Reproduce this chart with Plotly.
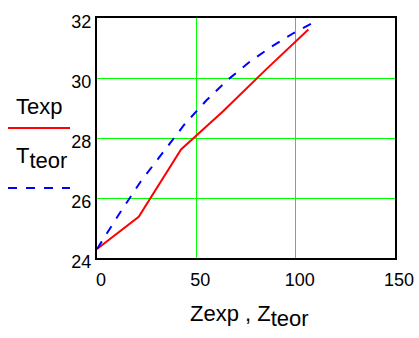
import plotly.graph_objects as go

# Experimental data (Texp vs Zexp)
z_exp = [0, 21, 42.3, 63.6, 85, 106.4]
t_exp = [24.3, 25.37, 27.62, 28.9, 30.28, 31.62]

# Theoretical curve (Tteor vs Zteor)
z_teor = [0, 11, 22, 33, 44, 55, 66, 77, 88, 99, 110.5]
t_teor = [24.3, 25.45, 26.55, 27.5, 28.45, 29.25, 29.95, 30.55, 31.05, 31.5, 31.9]

x_ticks = [0, 50, 100, 150]
y_ticks = [24, 26, 28, 30, 32]

FONT = "Arial, Liberation Sans, sans-serif"
GRID = "#00ff00"

fig = go.Figure()
fig.add_trace(go.Scatter(x=z_exp, y=t_exp, mode="lines",
                         line=dict(color="#ff0000", width=2), name="Texp"))
fig.add_trace(go.Scatter(x=z_teor, y=t_teor, mode="lines",
                         line=dict(color="#0000ff", width=2, dash="dash"), name="Tteor"))

fig.update_layout(
    width=419, height=338,
    margin=dict(l=97, r=24, t=18, b=80, autoexpand=False),
    paper_bgcolor="white", plot_bgcolor="white",
    showlegend=False,
    font=dict(family=FONT, color="black", size=18),
    xaxis=dict(range=[0, 150], tickvals=x_ticks, ticktext=[str(v) for v in x_ticks],
               showgrid=True, gridcolor=GRID, gridwidth=1, automargin=False,
               showline=True, linecolor="black", linewidth=2, mirror=True,
               zeroline=False, ticks="", ticklabelshift=4, ticklabelstandoff=4,
               tickfont=dict(size=18)),
    yaxis=dict(range=[24, 32], tickvals=y_ticks, ticktext=[str(v) for v in y_ticks],
               showgrid=True, gridcolor=GRID, gridwidth=1, automargin=False,
               showline=True, linecolor="black", linewidth=2, mirror=True,
               zeroline=False, ticks="", ticklabelshift=4, ticklabelstandoff=0,
               tickfont=dict(size=18)),
)

# x-axis title
fig.add_annotation(xref="paper", yref="paper", x=0.513, y=-0.17, yanchor="top",
                   xanchor="center", showarrow=False,
                   text="Zexp<span> , </span>Z<sub><span style='font-size:22px'>teor</span></sub>",
                   font=dict(size=22, family=FONT))

# custom legend on the left
fig.add_annotation(xref="paper", yref="paper", x=(39 - 97) / 298, y=(258 - 106) / 240,
                   xanchor="center", yanchor="middle", showarrow=False,
                   text="Texp", font=dict(size=22, family=FONT))
fig.add_shape(type="line", xref="paper", yref="paper",
              x0=(8 - 97) / 298, x1=(70 - 97) / 298,
              y0=(258 - 128) / 240, y1=(258 - 128) / 240,
              line=dict(color="#ff0000", width=2))
fig.add_annotation(xref="paper", yref="paper", x=(41 - 97) / 298, y=(258 - 158) / 240,
                   xanchor="center", yanchor="middle", showarrow=False,
                   text="T<sub><span style='font-size:22px'>teor</span></sub>",
                   font=dict(size=22, family=FONT))
fig.add_shape(type="line", xref="paper", yref="paper",
              x0=(8 - 97) / 298, x1=(70 - 97) / 298,
              y0=(258 - 188) / 240, y1=(258 - 188) / 240,
              line=dict(color="#0000ff", width=2, dash="dash"))

fig.write_html("out.html", config={"displayModeBar": False},
               post_script="document.body.style.margin='0';")
